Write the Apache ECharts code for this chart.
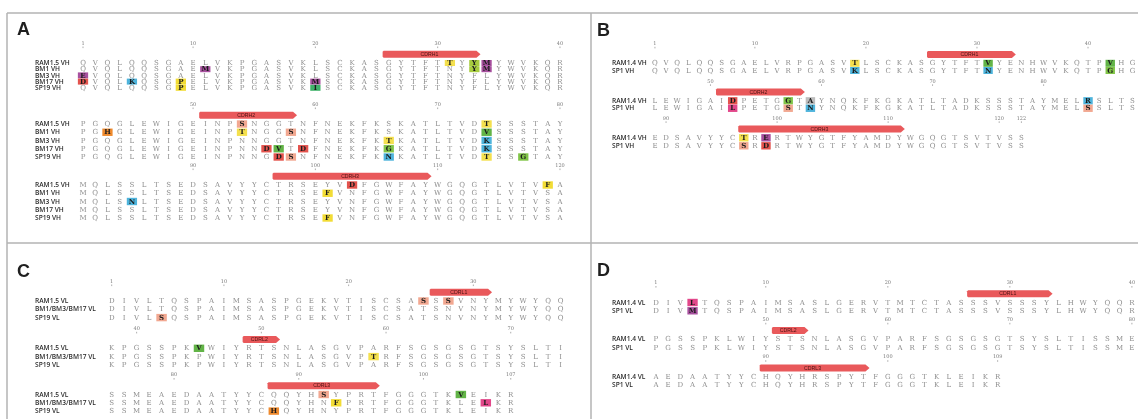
<!DOCTYPE html>
<html>
<head>
<meta charset="utf-8">
<script src="https://cdn.jsdelivr.net/npm/echarts@6/dist/echarts.min.js"></script>
<style>
  html, body { margin: 0; padding: 0; background: #fff; }
  #chart { width: 1138px; height: 419px; }
</style>
</head>
<body>
<div id="chart"></div>
<script>
// ---------- Panel A: heavy-chain variable regions ----------
const aNames = ['RAM1.5 VH', 'BM1 VH', 'BM3 VH', 'BM17 VH', 'SP19 VH'];
const aSeqs = [
  ['QVQLQQSGAELVKPGASVKLSCKASGYTFTTYYMYWVKQR', 'PGQGLEWIGEINPSNGGTNFNEKFKSKATLTVDTSSSTAY', 'MQLSSLTSEDSAVYYCTRSEYVDFGWFAYWGQGTLVTVFA'],
  ['QVQLQQSGAEMVKPGASVKLSCKASGYTFTNYYMYWVKQR', 'PGHGLEWIGEINPTNGGSNFNEKFKSKATLTVDVSSSTAY', 'MQLSSLTSEDSAVYYCTRSEFVNFGWFAYWGQGTLVTVSA'],
  ['EVQLQQSGAELVKPGASVKLSCKASGYTFTNYFLYWVKQR', 'PGQGLEWIGEINPNNGGTNFNEKFKTKATLTVDKSSSTAY', 'MQLSNLTSEDSAVYYCTRSEYVNFGWFAYWGQGTLVTVSA'],
  ['DVQLKQSGPELVKPGASVKMSCKASGYTFTNYFLYWVKQR', 'PGQGLEWIGEINPNNDVTDFNEKFKGKATLTVDKSSSTAY', 'MQLSSLTSEDSAVYYCTRSEYVNFGWFAYWGQGTLVTVSA'],
  ['QVQLQQSGPELVKPGASVKISCKASGYTFTNYFLYWVKQR', 'PGQGLEWIGEINPNNGDSNFNEKFKNKATLTVDTSSGTAY', 'MQLSSLTSEDSAVYYCTRSEFVNFGWFAYWGQGTLVTVSA']
];
// highlighted residues: [row, block, column]
const aMarks = [
  [0,0,31],[0,0,33],[0,0,34],[1,0,11],[1,0,33],[1,0,34],[2,0,1],[3,0,1],[3,0,5],[3,0,9],[3,0,20],[4,0,9],[4,0,20],
  [0,1,14],[0,1,34],[1,1,3],[1,1,14],[1,1,18],[1,1,34],[2,1,26],[2,1,34],[3,1,16],[3,1,17],[3,1,19],[3,1,26],[3,1,34],
  [4,1,17],[4,1,18],[4,1,26],[4,1,34],[4,1,37],
  [0,2,23],[0,2,39],[1,2,21],[2,2,5],[4,2,21]
];
const aTickCols = [[1, 10, 20, 30, 40], [10, 20, 30, 40], [10, 20, 30, 40]];
const aTickLabels = [['1', '10', '20', '30', '40'], ['50', '60', '70', '80'], ['90', '100', '110', '120']];
// CDR spans: [block, first column, last column, name]
const aCdrs = [[0, 26, 33, 'CDRH1'], [1, 11, 18, 'CDRH2'], [2, 17, 29, 'CDRH3']];

// ---------- Panel B ----------
const bNames = ['RAM1.4 VH', 'SP1 VH'];
const bSeqs = [
  ['QVQLQQSGAELVRPGASVTLSCKASGYTFTVYENHWVKQTPVHG', 'LEWIGAIDPETGGTAYNQKFKGKATLTADKSSSTAYMELRSLTS', 'EDSAVYYCTRERTWYGTFYAMDYWGQGTSVTVSS'],
  ['QVQLQQSGAELVRPGASVKLSCKASGYTFTNYENHWVKQTPGHG', 'LEWIGAILPETGSTNYNQKFKGKATLTADKSSSTAYMELSSLTS', 'EDSAVYYCSRDRTWYGTFYAMDYWGQGTSVTVSS']
];
const bMarks = [
  [0,0,19],[0,0,31],[0,0,42],[1,0,19],[1,0,31],[1,0,42],
  [0,1,8],[0,1,13],[0,1,15],[0,1,40],[1,1,8],[1,1,13],[1,1,15],[1,1,40],
  [0,2,9],[0,2,11],[1,2,9],[1,2,11]
];
const bTickCols = [[1, 10, 20, 30, 40], [6, 16, 26, 36], [2, 12, 22, 32, 34]];
const bTickLabels = [['1', '10', '20', '30', '40'], ['50', '60', '70', '80'], ['90', '100', '110', '120', '122']];
const bCdrs = [[0, 26, 33, 'CDRH1'], [1, 7, 14, 'CDRH2'], [2, 9, 23, 'CDRH3']];

// ---------- Panel C: light-chain variable regions ----------
const cNames = ['RAM1.5 VL', 'BM1/BM3/BM17 VL', 'SP19 VL'];
const cSeqs = [
  ['DIVLTQSPAIMSASPGEKVTISCSASSSVNYMYWYQQ', 'KPGSSPKVWIYRTSNLASGVPARFSGSGSGTSYSLTI', 'SSMEAEDAATYYCQQYHSYPRTFGGGTKVEIKR'],
  ['DIVLTQSPAIMSASPGEKVTISCSATSNVNYMYWYQQ', 'KPGSSPKPWIYRTSNLASGVPTRFSGSGSGTSYSLTI', 'SSMEAEDAATYYCQQYHNFPRTFGGGTKLELKR'],
  ['DIVLSQSPAIMSASPGEKVTISCSATSNVNYMYWYQQ', 'KPGSSPKPWIYRTSNLASGVPARFSGSGSGTSYSLTI', 'SSMEAEDAATYYCHQYHNYPRTFGGGTKLEIKR']
];
const cMarks = [
  [0,0,26],[0,0,28],[2,0,5],
  [0,1,8],[1,1,22],
  [0,2,18],[0,2,29],[1,2,19],[1,2,31],[2,2,14]
];
const cTickCols = [[1, 10, 20, 30], [3, 13, 23, 33], [6, 16, 26, 33]];
const cTickLabels = [['1', '10', '20', '30'], ['40', '50', '60', '70'], ['80', '90', '100', '107']];
const cCdrs = [[0, 27, 31, 'CDRL1'], [1, 12, 14, 'CDRL2'], [2, 14, 22, 'CDRL3']];

// ---------- Panel D ----------
const dNames = ['RAM1.4 VL', 'SP1 VL'];
const dSeqs = [
  ['DIVLTQSPAIMSASLGERVTMTCTASSSVSSSYLHWYQQR', 'PGSSPKLWIYSTSNLASGVPARFSGSGSGTSYSLTISSME', 'AEDAATYYCHQYHRSPYTFGGGTKLEIKR'],
  ['DIVMTQSPAIMSASLGERVTMTCTASSSVSSSYLHWYQQR', 'PGSSPKLWIYSTSNLASGVPARFSGSGSGTSYSLTISSME', 'AEDAATYYCHQYHRSPYTFGGGTKLEIKR']
];
const dMarks = [[0,0,4],[1,0,4]];
const dTickCols = [[1, 10, 20, 30, 40], [10, 20, 30, 40], [10, 20, 29]];
const dTickLabels = [['1', '10', '20', '30', '40'], ['50', '60', '70', '80'], ['90', '100', '109']];
const dCdrs = [[0, 27, 33, 'CDRL1'], [1, 11, 13, 'CDRL2'], [2, 10, 18, 'CDRL3']];

// residue highlight colours
const residueColors = {
  D: '#e4534d', E: '#a8509f', M: '#a8509f', K: '#4eb4dc', N: '#4eb4dc', R: '#4eb4dc',
  T: '#f4e04e', P: '#f2dc35', F: '#f2dc35', S: '#f2a891', H: '#ef8a2d',
  V: '#62b447', G: '#80c447', I: '#40b26a', Y: '#a7cc3e', L: '#e2478a', A: '#bdbdbd', Q: '#f2a891'
};

// ---------- layout of each panel (pixels) ----------
// frameTop / frameH: vertical extent of the panel's grid; blockTops: first sequence row of
// each block; rowPitch: spacing of sequence rows within each block.
const layouts = {
  A: { col1: 83,    pitch: 12.23, frameTop: 14,  frameH: 228, blockTops: [63, 124, 185],       rowPitch: [6.2, 8.25, 8.25], labelX: 35,  cols: 40, tagX: 17,  tagY: 31.5 },
  B: { col1: 655,   pitch: 11.22, frameTop: 14,  frameH: 228, blockTops: [63.3, 100.8, 137.8], rowPitch: [7.2, 7.5, 8],      labelX: 612, cols: 44, tagX: 597, tagY: 32.5 },
  C: { col1: 111.7, pitch: 12.47, frameTop: 244, frameH: 174, blockTops: [301, 348.3, 394.5],  rowPitch: [8.3, 8.3, 8.3],    labelX: 35,  cols: 37, tagX: 17,  tagY: 273 },
  D: { col1: 656,   pitch: 12.32, frameTop: 244, frameH: 174, blockTops: [302.5, 339.3, 376.7], rowPitch: [8.3, 8.3, 8.3],   labelX: 612, cols: 40, tagX: 597, tagY: 272 }
};
const TICK_ABOVE = 19.5;  // px from first sequence row up to the position numbers
const CDR_ABOVE = 8.8;    // px from first sequence row up to the CDR arrow centre
const CDR_H = 7;
const BOX_H = 7.4;

const panels = [
  { key: 'A', names: aNames, seqs: aSeqs, marks: aMarks, tickCols: aTickCols, tickLabels: aTickLabels, cdrs: aCdrs },
  { key: 'B', names: bNames, seqs: bSeqs, marks: bMarks, tickCols: bTickCols, tickLabels: bTickLabels, cdrs: bCdrs },
  { key: 'C', names: cNames, seqs: cSeqs, marks: cMarks, tickCols: cTickCols, tickLabels: cTickLabels, cdrs: cCdrs },
  { key: 'D', names: dNames, seqs: dSeqs, marks: dMarks, tickCols: dTickCols, tickLabels: dTickLabels, cdrs: dCdrs }
];

const grids = [], xAxes = [], yAxes = [], series = [], graphics = [];

panels.forEach((p, gi) => {
  const L = layouts[p.key];
  grids.push({ left: L.col1 - L.pitch / 2, top: L.frameTop, width: L.cols * L.pitch, height: L.frameH });
  xAxes.push({ type: 'value', gridIndex: gi, min: 0.5, max: L.cols + 0.5, show: false });
  // vertical axis measured in points down from the panel's top edge
  yAxes.push({ type: 'value', gridIndex: gi, min: 0, max: L.frameH, inverse: true, show: false });

  const yOf = (block, row) => L.blockTops[block] - L.frameTop + row * L.rowPitch[block];
  const isMarked = (r, b, c) => p.marks.some(m => m[0] === r && m[1] === b && m[2] === c);

  // residues
  const cells = [];
  p.seqs.forEach((rowSeqs, r) => {
    rowSeqs.forEach((seq, b) => {
      seq.split('').forEach((ch, i) => {
        cells.push({ col: i + 1, y: yOf(b, r), ch: ch, hl: isMarked(r, b, i + 1), block: b });
      });
    });
  });
  series.push({
    type: 'custom', xAxisIndex: gi, yAxisIndex: gi, silent: true, animation: false,
    data: cells.map(c => [c.col, c.y]),
    renderItem: (params, api) => {
      const c = cells[params.dataIndex];
      const pt = api.coord([c.col, c.y]);
      const kids = [];
      if (c.hl) {
        const w = L.pitch * 0.84;
        const h = Math.min(BOX_H, L.rowPitch[c.block] - 0.2);
        kids.push({ type: 'rect', shape: { x: pt[0] - w / 2, y: pt[1] - h / 2, width: w, height: h },
                    style: { fill: residueColors[c.ch] || '#cccccc' } });
      }
      kids.push({ type: 'text', x: pt[0], y: pt[1] + 0.3,
                  style: { text: c.ch, fill: c.hl ? '#1c1c1c' : '#8e8e8e',
                           font: (c.hl ? 'bold ' : '') + '7px "DejaVu Serif"', align: 'center', verticalAlign: 'middle' } });
      return { type: 'group', children: kids };
    }
  });

  // sequence names
  const names = [];
  p.seqs[0].forEach((_, b) => p.names.forEach((n, r) => names.push({ name: n, y: yOf(b, r) })));
  series.push({
    type: 'custom', xAxisIndex: gi, yAxisIndex: gi, silent: true, animation: false,
    data: names.map(n => [1, n.y]),
    renderItem: (params, api) => {
      const n = names[params.dataIndex];
      const pt = api.coord([1, n.y]);
      return { type: 'text', x: L.labelX, y: pt[1] + 0.3,
               style: { text: n.name, fill: '#2b2b2b', font: '600 6.6px "Open Sans"', align: 'left', verticalAlign: 'middle' } };
    }
  });

  // position numbers
  const ticks = [];
  p.tickCols.forEach((cols, b) => cols.forEach((c, k) => ticks.push({ col: c, text: p.tickLabels[b][k], y: yOf(b, 0) - TICK_ABOVE })));
  series.push({
    type: 'custom', xAxisIndex: gi, yAxisIndex: gi, silent: true, animation: false,
    data: ticks.map(t => [t.col, t.y]),
    renderItem: (params, api) => {
      const t = ticks[params.dataIndex];
      const pt = api.coord([t.col, t.y]);
      return { type: 'group', children: [
        { type: 'text', x: pt[0], y: pt[1], style: { text: t.text, fill: '#7a7a7a', font: '5px "DejaVu Serif"', align: 'center', verticalAlign: 'middle' } },
        { type: 'line', shape: { x1: pt[0], y1: pt[1] + 3, x2: pt[0], y2: pt[1] + 4.6 }, style: { stroke: '#8a8a8a', lineWidth: 0.7 } }
      ] };
    }
  });

  // CDR arrows
  series.push({
    type: 'custom', xAxisIndex: gi, yAxisIndex: gi, silent: true, animation: false,
    encode: { x: [0, 1], y: 2 },
    data: p.cdrs.map(c => [c[1], c[2], yOf(c[0], 0) - CDR_ABOVE]),
    renderItem: (params, api) => {
      const c = p.cdrs[params.dataIndex];
      const y = yOf(c[0], 0) - CDR_ABOVE;
      const a = api.coord([c[1] - 0.5, y]);
      const e = api.coord([c[2] + 0.5, y]);
      const h = CDR_H / 2, tip = 4;
      return { type: 'group', children: [
        { type: 'polygon', shape: { points: [[a[0] + 1, a[1] - h], [e[0] - tip, a[1] - h], [e[0], a[1]], [e[0] - tip, a[1] + h], [a[0] + 1, a[1] + h], [a[0], a[1] + h - 1], [a[0], a[1] - h + 1]] },
          style: { fill: '#e9595b' } },
        { type: 'text', x: (a[0] + e[0] - tip) / 2, y: a[1] + 0.3,
          style: { text: c[3], fill: '#4a1212', font: '5.2px "Liberation Sans"', align: 'center', verticalAlign: 'middle' } }
      ] };
    }
  });

  graphics.push({ type: 'text', left: L.tagX, top: L.tagY - 10,
                  style: { text: p.key, fill: '#1f1f1f', font: 'bold 18px "Liberation Sans"' } });
});

// panel frames
const frame = { stroke: '#b3b3b3', lineWidth: 1.5 };
graphics.push(
  { type: 'line', shape: { x1: 7, y1: 13, x2: 1138, y2: 13 }, style: frame },
  { type: 'line', shape: { x1: 7, y1: 13, x2: 7, y2: 419 }, style: frame },
  { type: 'line', shape: { x1: 591, y1: 13, x2: 591, y2: 419 }, style: frame },
  { type: 'line', shape: { x1: 7, y1: 243, x2: 1138, y2: 243 }, style: frame }
);

const chart = echarts.init(document.getElementById('chart'), null, { renderer: 'canvas' });
chart.setOption({
  animation: false,
  backgroundColor: '#ffffff',
  grid: grids,
  xAxis: xAxes,
  yAxis: yAxes,
  series: series,
  graphic: graphics
});
</script>
</body>
</html>
